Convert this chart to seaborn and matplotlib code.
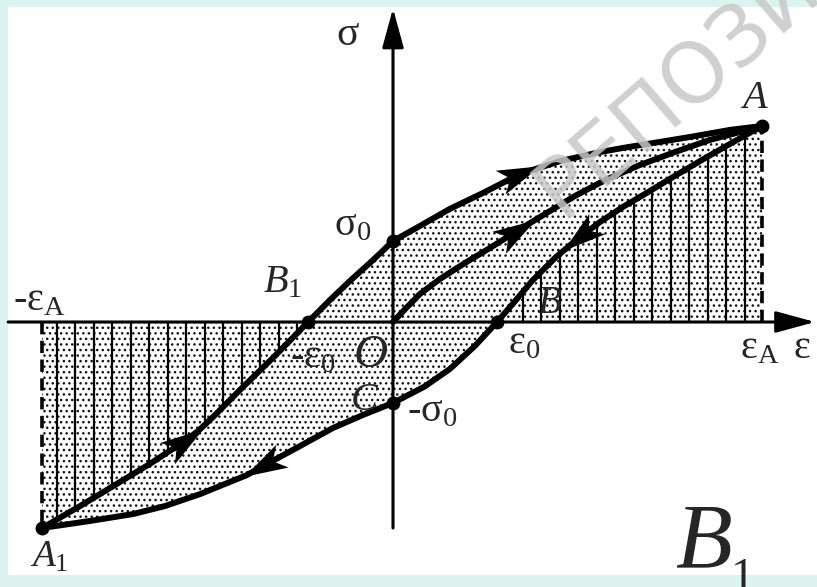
import numpy as np
import pandas as pd
import matplotlib
matplotlib.use('Agg')
import matplotlib.pyplot as plt
from matplotlib.path import Path
from matplotlib.markers import MarkerStyle
from matplotlib.transforms import Affine2D
import seaborn as sns

# strain / stress (eps_A = 1, sigma_A = 1)
# upper branch, from A1 back up to A
upper_eps = [-0.951, -0.848, -0.767, -0.659, -0.564, -0.528, -0.482, -0.415,
             -0.320, -0.230, -0.171, -0.117, -0.057, 0.0, 0.073, 0.154, 0.249,
             0.344, 0.453, 0.561, 0.623, 0.805, 0.913, 1.0]
upper_sig = [-1.051, -0.939, -0.847, -0.724, -0.607, -0.556, -0.474, -0.347,
             -0.173, 0.0, 0.112, 0.209, 0.311, 0.413, 0.490, 0.577, 0.663,
             0.755, 0.821, 0.867, 0.888, 0.944, 0.980, 1.0]
# lower branch, from A down to A1
lower_eps = [1.0, 0.894, 0.832, 0.759, 0.696, 0.623, 0.561, 0.507, 0.442,
             0.379, 0.331, 0.282, 0.222, 0.154, 0.085, 0.0, -0.081, -0.163,
             -0.257, -0.352, -0.396, -0.442, -0.523, -0.618, -0.705, -0.821,
             -0.951]
lower_sig = [1.0, 0.888, 0.821, 0.740, 0.668, 0.587, 0.510, 0.434, 0.332,
             0.214, 0.107, 0.0, -0.122, -0.240, -0.330, -0.413, -0.474, -0.541,
             -0.638, -0.735, -0.781, -0.816, -0.878, -0.939, -0.980, -1.015,
             -1.051]
# first loading, from O to A
start_eps = [0.0, 0.033, 0.073, 0.127, 0.195, 0.263, 0.336, 0.412, 0.493,
             0.575, 0.669, 0.764, 0.859, 0.940, 1.0]
start_sig = [0.0, 0.066, 0.143, 0.219, 0.301, 0.378, 0.464, 0.551, 0.643,
             0.724, 0.801, 0.867, 0.929, 0.969, 1.0]

eps_A, neg_eps_A = 1.0, -0.951
sig_A, neg_sig_A = 1.0, -1.051
eps_0, neg_eps_0 = 0.282, -0.230
sig_0, neg_sig_0 = 0.413, -0.413

# (curve, index of the point carrying an arrow head)
arrow_marks = [('upper', 4), ('upper', 17), ('start', 6), ('lower', 7), ('lower', 19)]

sns.set_style('white')
plt.rcParams['font.family'] = ['Liberation Serif', 'DejaVu Serif']
plt.rcParams['mathtext.fontset'] = 'custom'
plt.rcParams['mathtext.rm'] = 'Liberation Serif'
plt.rcParams['mathtext.it'] = 'Liberation Serif:italic'

fig = plt.figure(figsize=(8.17, 5.87), dpi=100, facecolor='#dcf4f0')
ax = fig.add_axes([8 / 817, 12 / 587, 809 / 817, 568 / 587])
ax.set_facecolor('white')
ax.set_xlim(-1.0434, 1.1491)
ax.set_ylim(-1.2908, 1.6071)

# stippled areas: the loop and the two hatched strips
stipple = dict(facecolor='white', edgecolor='#111111', lw=0, hatch='...', zorder=1)
loop = ax.fill(np.r_[upper_eps, lower_eps], np.r_[upper_sig, lower_sig], **stipple)[0]
k_right = lower_eps.index(eps_0)
right = ax.fill(lower_eps[:k_right + 1] + [eps_A], lower_sig[:k_right + 1] + [0], **stipple)[0]
k_left = upper_eps.index(neg_eps_0)
left = ax.fill(upper_eps[:k_left + 1] + [neg_eps_A], upper_sig[:k_left + 1] + [0], **stipple)[0]

# vertical hatching, clipped to the strips
step = 0.0501
vr = ax.vlines(np.arange(0.352, 0.96, step), 0, 1.2, color='k', lw=1.6, zorder=2)
vr.set_clip_path(right)
vl = ax.vlines(np.arange(-0.911, -0.25, step), -1.2, 0, color='k', lw=1.6, zorder=2)
vl.set_clip_path(left)

# dashed verticals at +-eps_A
ax.plot([eps_A, eps_A], [0, sig_A], color='k', lw=2.6, dashes=(3.4, 1.8), zorder=3)
ax.plot([neg_eps_A, neg_eps_A], [0, neg_sig_A], color='k', lw=2.6, dashes=(3.4, 1.8), zorder=3)

# coordinate axes
axis_arrow = dict(arrowstyle='-|>,head_length=1.1,head_width=0.3',
                  mutation_scale=22, lw=2.2, color='k', shrinkA=0, shrinkB=0)
ax.annotate('', xy=(1.144, 0), xytext=(-1.043, 0), arrowprops=axis_arrow, zorder=3)
ax.annotate('', xy=(0, 1.60), xytext=(0, neg_sig_A), arrowprops=axis_arrow, zorder=3)

curves = {
    'upper': pd.DataFrame({'eps': upper_eps, 'sig': upper_sig}),
    'lower': pd.DataFrame({'eps': lower_eps, 'sig': lower_sig}),
    'start': pd.DataFrame({'eps': start_eps, 'sig': start_sig}),
}
for name, df in curves.items():
    sns.lineplot(data=df, x='eps', y='sig', sort=False, estimator=None, color='k',
                 lw=4.3, solid_joinstyle='round', solid_capstyle='round', ax=ax, zorder=4)

# barbed arrow heads, turned along the curve
head = Path([(0.5, 0), (-0.5, 0.3), (-0.25, 0), (-0.5, -0.3), (0.5, 0)],
            [Path.MOVETO, Path.LINETO, Path.LINETO, Path.LINETO, Path.CLOSEPOLY])
for name, i in arrow_marks:
    df = curves[name]
    p0 = ax.transData.transform((df.eps[i - 1], df.sig[i - 1]))
    p1 = ax.transData.transform((df.eps[i + 1], df.sig[i + 1]))
    ang = np.degrees(np.arctan2(p1[1] - p0[1], p1[0] - p0[0]))
    m = MarkerStyle(head, transform=Affine2D().rotate_deg(ang))
    ax.plot(df.eps[i], df.sig[i], marker=m, markersize=31, color='k', mew=0, zorder=5)

dots = pd.DataFrame({'eps': [eps_A, neg_eps_A, 0, 0, neg_eps_0, eps_0],
                     'sig': [sig_A, neg_sig_A, sig_0, neg_sig_0, 0, 0]})
sns.scatterplot(data=dots, x='eps', y='sig', color='k', s=100, linewidth=0, ax=ax, zorder=6)

# labels
def label(x, y, s, size):
    ax.text(x, y, s, fontsize=size, ha='left', va='baseline', zorder=7)

label(-0.155, 1.413, r'$\mathrm{σ}$', 30)
label(-0.160, 0.444, r'$\mathrm{σ}_\mathrm{0}$', 29)
label(-0.352, 0.153, r'$\mathit{B}_\mathrm{1}$', 29)
label(-1.030, 0.061, r'-$\mathrm{ε}_\mathrm{A}$', 29)
label(-0.279, -0.230, r'-$\mathrm{ε}_\mathrm{0}$', 29)
label(-0.108, -0.230, r'$\mathit{O}$', 34)
label(-0.117, -0.449, r'$\mathit{C}$', 29)
label(0.038, -0.505, r'-$\mathrm{σ}_\mathrm{0}$', 29)
label(0.312, -0.158, r'$\mathrm{ε}_\mathrm{0}$', 29)
label(0.390, 0.046, r'$\mathit{B}$', 28)
label(0.940, -0.184, r'$\mathrm{ε}_\mathrm{A}$', 29)
label(1.083, -0.184, r'$\mathrm{ε}$', 29)
label(0.940, 1.092, r'$\mathit{A}$', 29)
label(-0.984, -1.250, r'$\mathit{A}_\mathrm{1}$', 27)

ax.set(xlabel='', ylabel='', xticks=[], yticks=[])
sns.despine(ax=ax, left=True, bottom=True)

# panel mark
fig.text(675 / 817, (587 - 567) / 587, 'B', fontsize=67, style='italic',
         ha='left', va='baseline', zorder=8)
fig.text(731 / 817, (587 - 590) / 587, '1', fontsize=34,
         ha='left', va='baseline', zorder=8)

# watermark
fig.text(562 / 817, (587 - 219) / 587, 'РЕПОЗИТОРИЙ', fontsize=60, family='DejaVu Sans',
         rotation=41, rotation_mode='anchor', ha='left', va='baseline',
         color='#c8c8c8', alpha=0.85, zorder=10)

fig.savefig('out.png', dpi=100, facecolor=fig.get_facecolor())
